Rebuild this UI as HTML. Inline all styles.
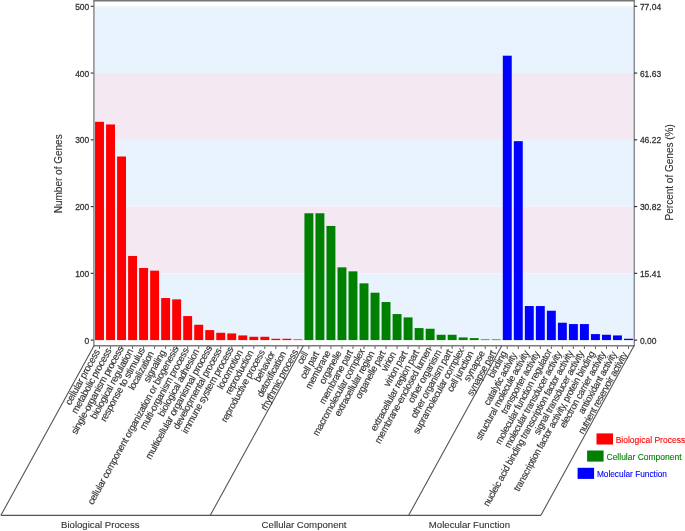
<!DOCTYPE html><html><head><meta charset="utf-8"><style>html,body{margin:0;padding:0;background:#fff;}svg{display:block;filter:blur(0.4px);}text{font-family:"Liberation Sans",sans-serif;}</style></head><body>
<svg width="685" height="531" viewBox="0 0 685 531">
<rect x="94.0" y="6.50" width="540.00" height="66.56" fill="#e9f3fd"/>
<rect x="94.0" y="73.06" width="540.00" height="66.76" fill="#f4e8f2"/>
<rect x="94.0" y="139.82" width="540.00" height="66.76" fill="#e9f3fd"/>
<rect x="94.0" y="206.58" width="540.00" height="66.76" fill="#f4e8f2"/>
<rect x="94.0" y="273.34" width="540.00" height="66.76" fill="#e9f3fd"/>
<rect x="95.05" y="121.79" width="8.92" height="218.31" fill="#ff0000"/>
<rect x="106.07" y="124.47" width="8.92" height="215.63" fill="#ff0000"/>
<rect x="117.09" y="156.51" width="8.92" height="183.59" fill="#ff0000"/>
<rect x="128.11" y="255.98" width="8.92" height="84.12" fill="#ff0000"/>
<rect x="139.13" y="268.00" width="8.92" height="72.10" fill="#ff0000"/>
<rect x="150.15" y="270.67" width="8.92" height="69.43" fill="#ff0000"/>
<rect x="161.17" y="298.04" width="8.92" height="42.06" fill="#ff0000"/>
<rect x="172.19" y="299.38" width="8.92" height="40.72" fill="#ff0000"/>
<rect x="183.21" y="316.07" width="8.92" height="24.03" fill="#ff0000"/>
<rect x="194.23" y="324.75" width="8.92" height="15.35" fill="#ff0000"/>
<rect x="205.25" y="330.09" width="8.92" height="10.01" fill="#ff0000"/>
<rect x="216.27" y="332.76" width="8.92" height="7.34" fill="#ff0000"/>
<rect x="227.29" y="333.42" width="8.92" height="6.68" fill="#ff0000"/>
<rect x="238.32" y="335.43" width="8.92" height="4.67" fill="#ff0000"/>
<rect x="249.34" y="336.76" width="8.92" height="3.34" fill="#ff0000"/>
<rect x="260.36" y="336.76" width="8.92" height="3.34" fill="#ff0000"/>
<rect x="271.38" y="338.76" width="8.92" height="1.34" fill="#ff0000"/>
<rect x="282.40" y="338.76" width="8.92" height="1.34" fill="#ff0000"/>
<rect x="293.42" y="339.43" width="8.92" height="0.67" fill="#ff0000"/>
<rect x="304.44" y="213.26" width="8.92" height="126.84" fill="#008000"/>
<rect x="315.46" y="213.26" width="8.92" height="126.84" fill="#008000"/>
<rect x="326.48" y="225.94" width="8.92" height="114.16" fill="#008000"/>
<rect x="337.50" y="267.33" width="8.92" height="72.77" fill="#008000"/>
<rect x="348.52" y="271.34" width="8.92" height="68.76" fill="#008000"/>
<rect x="359.54" y="283.35" width="8.92" height="56.75" fill="#008000"/>
<rect x="370.56" y="292.70" width="8.92" height="47.40" fill="#008000"/>
<rect x="381.58" y="302.05" width="8.92" height="38.05" fill="#008000"/>
<rect x="392.60" y="314.06" width="8.92" height="26.04" fill="#008000"/>
<rect x="403.62" y="317.40" width="8.92" height="22.70" fill="#008000"/>
<rect x="414.64" y="328.08" width="8.92" height="12.02" fill="#008000"/>
<rect x="425.66" y="328.75" width="8.92" height="11.35" fill="#008000"/>
<rect x="436.68" y="334.76" width="8.92" height="5.34" fill="#008000"/>
<rect x="447.70" y="334.76" width="8.92" height="5.34" fill="#008000"/>
<rect x="458.72" y="337.43" width="8.92" height="2.67" fill="#008000"/>
<rect x="469.74" y="338.10" width="8.92" height="2.00" fill="#008000"/>
<rect x="480.76" y="339.43" width="8.92" height="0.67" fill="#008000"/>
<rect x="491.78" y="339.43" width="8.92" height="0.67" fill="#008000"/>
<rect x="502.81" y="55.70" width="8.92" height="284.40" fill="#0000ff"/>
<rect x="513.83" y="141.16" width="8.92" height="198.94" fill="#0000ff"/>
<rect x="524.85" y="306.05" width="8.92" height="34.05" fill="#0000ff"/>
<rect x="535.87" y="306.05" width="8.92" height="34.05" fill="#0000ff"/>
<rect x="546.89" y="310.73" width="8.92" height="29.37" fill="#0000ff"/>
<rect x="557.91" y="322.74" width="8.92" height="17.36" fill="#0000ff"/>
<rect x="568.93" y="324.08" width="8.92" height="16.02" fill="#0000ff"/>
<rect x="579.95" y="324.08" width="8.92" height="16.02" fill="#0000ff"/>
<rect x="590.97" y="334.09" width="8.92" height="6.01" fill="#0000ff"/>
<rect x="601.99" y="334.76" width="8.92" height="5.34" fill="#0000ff"/>
<rect x="613.01" y="335.43" width="8.92" height="4.67" fill="#0000ff"/>
<rect x="624.03" y="338.76" width="8.92" height="1.34" fill="#0000ff"/>
<path d="M93.9,345.8 V0.75 M634.3,0.75 V345.8" fill="none" stroke="#8a8d92" stroke-width="1.5"/>
<path d="M93.2,0.7 H635" fill="none" stroke="#777" stroke-width="1.4"/>
<path d="M93.2,345.8 H635" fill="none" stroke="#7c7c7c" stroke-width="1.5"/>
<line x1="90.8" y1="340.10" x2="93.5" y2="340.10" stroke="#333" stroke-width="1.15"/>
<text transform="translate(89.3,343.60) scale(0.87,1)" font-size="9.75" fill="#333" stroke="#333" stroke-width="0.3" text-anchor="end">0</text>
<line x1="634.0" y1="340.10" x2="637.2" y2="340.10" stroke="#333" stroke-width="1.15"/>
<text transform="translate(639.9,343.70) scale(0.87,1)" font-size="9.75" fill="#333" stroke="#333" stroke-width="0.3">0.00</text>
<line x1="90.8" y1="273.34" x2="93.5" y2="273.34" stroke="#333" stroke-width="1.15"/>
<text transform="translate(89.3,276.84) scale(0.87,1)" font-size="9.75" fill="#333" stroke="#333" stroke-width="0.3" text-anchor="end">100</text>
<line x1="634.0" y1="273.34" x2="637.2" y2="273.34" stroke="#333" stroke-width="1.15"/>
<text transform="translate(639.9,276.94) scale(0.87,1)" font-size="9.75" fill="#333" stroke="#333" stroke-width="0.3">15.41</text>
<line x1="90.8" y1="206.58" x2="93.5" y2="206.58" stroke="#333" stroke-width="1.15"/>
<text transform="translate(89.3,210.08) scale(0.87,1)" font-size="9.75" fill="#333" stroke="#333" stroke-width="0.3" text-anchor="end">200</text>
<line x1="634.0" y1="206.58" x2="637.2" y2="206.58" stroke="#333" stroke-width="1.15"/>
<text transform="translate(639.9,210.18) scale(0.87,1)" font-size="9.75" fill="#333" stroke="#333" stroke-width="0.3">30.82</text>
<line x1="90.8" y1="139.82" x2="93.5" y2="139.82" stroke="#333" stroke-width="1.15"/>
<text transform="translate(89.3,143.32) scale(0.87,1)" font-size="9.75" fill="#333" stroke="#333" stroke-width="0.3" text-anchor="end">300</text>
<line x1="634.0" y1="139.82" x2="637.2" y2="139.82" stroke="#333" stroke-width="1.15"/>
<text transform="translate(639.9,143.42) scale(0.87,1)" font-size="9.75" fill="#333" stroke="#333" stroke-width="0.3">46.22</text>
<line x1="90.8" y1="73.06" x2="93.5" y2="73.06" stroke="#333" stroke-width="1.15"/>
<text transform="translate(89.3,76.56) scale(0.87,1)" font-size="9.75" fill="#333" stroke="#333" stroke-width="0.3" text-anchor="end">400</text>
<line x1="634.0" y1="73.06" x2="637.2" y2="73.06" stroke="#333" stroke-width="1.15"/>
<text transform="translate(639.9,76.66) scale(0.87,1)" font-size="9.75" fill="#333" stroke="#333" stroke-width="0.3">61.63</text>
<line x1="90.8" y1="6.30" x2="93.5" y2="6.30" stroke="#333" stroke-width="1.15"/>
<text transform="translate(89.3,9.80) scale(0.87,1)" font-size="9.75" fill="#333" stroke="#333" stroke-width="0.3" text-anchor="end">500</text>
<line x1="634.0" y1="6.30" x2="637.2" y2="6.30" stroke="#333" stroke-width="1.15"/>
<text transform="translate(639.9,9.90) scale(0.87,1)" font-size="9.75" fill="#333" stroke="#333" stroke-width="0.3">77.04</text>
<text transform="translate(62.0,173.8) rotate(-90)" font-size="10" fill="#333" stroke="#333" stroke-width="0.12" text-anchor="middle">Number of Genes</text>
<text transform="translate(672.6,172.3) rotate(-90)" font-size="10" fill="#333" stroke="#333" stroke-width="0.12" text-anchor="middle">Percent of Genes (%)</text>
<line x1="99.51" y1="346.3" x2="99.51" y2="348.9" stroke="#555" stroke-width="1"/>
<line x1="110.53" y1="346.3" x2="110.53" y2="348.9" stroke="#555" stroke-width="1"/>
<line x1="121.55" y1="346.3" x2="121.55" y2="348.9" stroke="#555" stroke-width="1"/>
<line x1="132.57" y1="346.3" x2="132.57" y2="348.9" stroke="#555" stroke-width="1"/>
<line x1="143.59" y1="346.3" x2="143.59" y2="348.9" stroke="#555" stroke-width="1"/>
<line x1="154.61" y1="346.3" x2="154.61" y2="348.9" stroke="#555" stroke-width="1"/>
<line x1="165.63" y1="346.3" x2="165.63" y2="348.9" stroke="#555" stroke-width="1"/>
<line x1="176.65" y1="346.3" x2="176.65" y2="348.9" stroke="#555" stroke-width="1"/>
<line x1="187.67" y1="346.3" x2="187.67" y2="348.9" stroke="#555" stroke-width="1"/>
<line x1="198.69" y1="346.3" x2="198.69" y2="348.9" stroke="#555" stroke-width="1"/>
<line x1="209.71" y1="346.3" x2="209.71" y2="348.9" stroke="#555" stroke-width="1"/>
<line x1="220.73" y1="346.3" x2="220.73" y2="348.9" stroke="#555" stroke-width="1"/>
<line x1="231.76" y1="346.3" x2="231.76" y2="348.9" stroke="#555" stroke-width="1"/>
<line x1="242.78" y1="346.3" x2="242.78" y2="348.9" stroke="#555" stroke-width="1"/>
<line x1="253.80" y1="346.3" x2="253.80" y2="348.9" stroke="#555" stroke-width="1"/>
<line x1="264.82" y1="346.3" x2="264.82" y2="348.9" stroke="#555" stroke-width="1"/>
<line x1="275.84" y1="346.3" x2="275.84" y2="348.9" stroke="#555" stroke-width="1"/>
<line x1="286.86" y1="346.3" x2="286.86" y2="348.9" stroke="#555" stroke-width="1"/>
<line x1="297.88" y1="346.3" x2="297.88" y2="348.9" stroke="#555" stroke-width="1"/>
<line x1="308.90" y1="346.3" x2="308.90" y2="348.9" stroke="#555" stroke-width="1"/>
<line x1="319.92" y1="346.3" x2="319.92" y2="348.9" stroke="#555" stroke-width="1"/>
<line x1="330.94" y1="346.3" x2="330.94" y2="348.9" stroke="#555" stroke-width="1"/>
<line x1="341.96" y1="346.3" x2="341.96" y2="348.9" stroke="#555" stroke-width="1"/>
<line x1="352.98" y1="346.3" x2="352.98" y2="348.9" stroke="#555" stroke-width="1"/>
<line x1="364.00" y1="346.3" x2="364.00" y2="348.9" stroke="#555" stroke-width="1"/>
<line x1="375.02" y1="346.3" x2="375.02" y2="348.9" stroke="#555" stroke-width="1"/>
<line x1="386.04" y1="346.3" x2="386.04" y2="348.9" stroke="#555" stroke-width="1"/>
<line x1="397.06" y1="346.3" x2="397.06" y2="348.9" stroke="#555" stroke-width="1"/>
<line x1="408.08" y1="346.3" x2="408.08" y2="348.9" stroke="#555" stroke-width="1"/>
<line x1="419.10" y1="346.3" x2="419.10" y2="348.9" stroke="#555" stroke-width="1"/>
<line x1="430.12" y1="346.3" x2="430.12" y2="348.9" stroke="#555" stroke-width="1"/>
<line x1="441.14" y1="346.3" x2="441.14" y2="348.9" stroke="#555" stroke-width="1"/>
<line x1="452.16" y1="346.3" x2="452.16" y2="348.9" stroke="#555" stroke-width="1"/>
<line x1="463.18" y1="346.3" x2="463.18" y2="348.9" stroke="#555" stroke-width="1"/>
<line x1="474.20" y1="346.3" x2="474.20" y2="348.9" stroke="#555" stroke-width="1"/>
<line x1="485.22" y1="346.3" x2="485.22" y2="348.9" stroke="#555" stroke-width="1"/>
<line x1="496.24" y1="346.3" x2="496.24" y2="348.9" stroke="#555" stroke-width="1"/>
<line x1="507.27" y1="346.3" x2="507.27" y2="348.9" stroke="#555" stroke-width="1"/>
<line x1="518.29" y1="346.3" x2="518.29" y2="348.9" stroke="#555" stroke-width="1"/>
<line x1="529.31" y1="346.3" x2="529.31" y2="348.9" stroke="#555" stroke-width="1"/>
<line x1="540.33" y1="346.3" x2="540.33" y2="348.9" stroke="#555" stroke-width="1"/>
<line x1="551.35" y1="346.3" x2="551.35" y2="348.9" stroke="#555" stroke-width="1"/>
<line x1="562.37" y1="346.3" x2="562.37" y2="348.9" stroke="#555" stroke-width="1"/>
<line x1="573.39" y1="346.3" x2="573.39" y2="348.9" stroke="#555" stroke-width="1"/>
<line x1="584.41" y1="346.3" x2="584.41" y2="348.9" stroke="#555" stroke-width="1"/>
<line x1="595.43" y1="346.3" x2="595.43" y2="348.9" stroke="#555" stroke-width="1"/>
<line x1="606.45" y1="346.3" x2="606.45" y2="348.9" stroke="#555" stroke-width="1"/>
<line x1="617.47" y1="346.3" x2="617.47" y2="348.9" stroke="#555" stroke-width="1"/>
<line x1="628.49" y1="346.3" x2="628.49" y2="348.9" stroke="#555" stroke-width="1"/>
<path d="M94.00,345.8 L0.90,515.3 M303.39,345.8 L210.29,515.3 M501.76,345.8 L408.66,515.3 M634.00,345.8 L540.90,515.3 " fill="none" stroke="#555" stroke-width="1.1"/>
<path d="M0.90,515.3 H540.90" fill="none" stroke="#555" stroke-width="1.25"/>
<text transform="translate(100.14,351.71) rotate(-61.2) scale(0.9761,1)" font-size="9.8" letter-spacing="-0.3" fill="#333" stroke="#333" stroke-width="0.15" text-anchor="end">cellular process</text>
<text transform="translate(111.77,350.60) rotate(-61.2) scale(0.9858,1)" font-size="9.8" letter-spacing="-0.3" fill="#333" stroke="#333" stroke-width="0.15" text-anchor="end">metabolic process</text>
<text transform="translate(123.92,348.56) rotate(-61.2) scale(0.9942,1)" font-size="9.8" letter-spacing="-0.3" fill="#333" stroke="#333" stroke-width="0.15" text-anchor="end">single-organism process</text>
<text transform="translate(133.49,351.19) rotate(-61.2) scale(0.9750,1)" font-size="9.8" letter-spacing="-0.3" fill="#333" stroke="#333" stroke-width="0.15" text-anchor="end">biological regulation</text>
<text transform="translate(145.14,350.05) rotate(-61.2) scale(0.9844,1)" font-size="9.8" letter-spacing="-0.3" fill="#333" stroke="#333" stroke-width="0.15" text-anchor="end">response to stimulus</text>
<text transform="translate(154.13,353.73) rotate(-61.2) scale(0.9461,1)" font-size="9.8" letter-spacing="-0.3" fill="#333" stroke="#333" stroke-width="0.15" text-anchor="end">localization</text>
<text transform="translate(165.85,352.46) rotate(-61.2) scale(0.9753,1)" font-size="9.8" letter-spacing="-0.3" fill="#333" stroke="#333" stroke-width="0.15" text-anchor="end">signaling</text>
<text transform="translate(179.00,348.59) rotate(-61.2) scale(0.9617,1)" font-size="9.8" letter-spacing="-0.3" fill="#333" stroke="#333" stroke-width="0.15" text-anchor="end">cellular component organization or biogenesis</text>
<text transform="translate(189.12,350.22) rotate(-61.2) scale(0.9690,1)" font-size="9.8" letter-spacing="-0.3" fill="#333" stroke="#333" stroke-width="0.15" text-anchor="end">multi-organism process</text>
<text transform="translate(199.48,351.42) rotate(-61.2) scale(0.9712,1)" font-size="9.8" letter-spacing="-0.3" fill="#333" stroke="#333" stroke-width="0.15" text-anchor="end">biological adhesion</text>
<text transform="translate(212.39,347.99) rotate(-61.2) scale(0.9840,1)" font-size="9.8" letter-spacing="-0.3" fill="#333" stroke="#333" stroke-width="0.15" text-anchor="end">multicellular organismal process</text>
<text transform="translate(221.97,350.62) rotate(-61.2) scale(0.9589,1)" font-size="9.8" letter-spacing="-0.3" fill="#333" stroke="#333" stroke-width="0.15" text-anchor="end">developmental process</text>
<text transform="translate(233.71,349.30) rotate(-61.2) scale(0.9769,1)" font-size="9.8" letter-spacing="-0.3" fill="#333" stroke="#333" stroke-width="0.15" text-anchor="end">immune system process</text>
<text transform="translate(243.08,352.30) rotate(-61.2) scale(0.9709,1)" font-size="9.8" letter-spacing="-0.3" fill="#333" stroke="#333" stroke-width="0.15" text-anchor="end">locomotion</text>
<text transform="translate(253.86,352.74) rotate(-61.2) scale(0.9551,1)" font-size="9.8" letter-spacing="-0.3" fill="#333" stroke="#333" stroke-width="0.15" text-anchor="end">reproduction</text>
<text transform="translate(265.16,352.24) rotate(-61.2) scale(0.9521,1)" font-size="9.8" letter-spacing="-0.3" fill="#333" stroke="#333" stroke-width="0.15" text-anchor="end">reproductive process</text>
<text transform="translate(275.39,353.68) rotate(-61.2) scale(0.9398,1)" font-size="9.8" letter-spacing="-0.3" fill="#333" stroke="#333" stroke-width="0.15" text-anchor="end">behavior</text>
<text transform="translate(286.38,353.73) rotate(-61.2) scale(0.9505,1)" font-size="9.8" letter-spacing="-0.3" fill="#333" stroke="#333" stroke-width="0.15" text-anchor="end">detoxification</text>
<text transform="translate(298.41,351.90) rotate(-61.2) scale(0.9744,1)" font-size="9.8" letter-spacing="-0.3" fill="#333" stroke="#333" stroke-width="0.15" text-anchor="end">rhythmic process</text>
<text transform="translate(308.23,354.08) rotate(-61.2) scale(0.9072,1)" font-size="9.8" letter-spacing="-0.3" fill="#333" stroke="#333" stroke-width="0.15" text-anchor="end">cell</text>
<text transform="translate(319.32,353.95) rotate(-61.2) scale(0.9261,1)" font-size="9.8" letter-spacing="-0.3" fill="#333" stroke="#333" stroke-width="0.15" text-anchor="end">cell part</text>
<text transform="translate(330.85,353.03) rotate(-61.2) scale(0.9435,1)" font-size="9.8" letter-spacing="-0.3" fill="#333" stroke="#333" stroke-width="0.15" text-anchor="end">membrane</text>
<text transform="translate(341.82,353.12) rotate(-61.2) scale(0.9572,1)" font-size="9.8" letter-spacing="-0.3" fill="#333" stroke="#333" stroke-width="0.15" text-anchor="end">organelle</text>
<text transform="translate(353.13,352.59) rotate(-61.2) scale(0.9534,1)" font-size="9.8" letter-spacing="-0.3" fill="#333" stroke="#333" stroke-width="0.15" text-anchor="end">membrane part</text>
<text transform="translate(364.87,351.28) rotate(-61.2) scale(0.9517,1)" font-size="9.8" letter-spacing="-0.3" fill="#333" stroke="#333" stroke-width="0.15" text-anchor="end">macromolecular complex</text>
<text transform="translate(374.74,353.38) rotate(-61.2) scale(0.9476,1)" font-size="9.8" letter-spacing="-0.3" fill="#333" stroke="#333" stroke-width="0.15" text-anchor="end">extracellular region</text>
<text transform="translate(385.85,353.20) rotate(-61.2) scale(0.9497,1)" font-size="9.8" letter-spacing="-0.3" fill="#333" stroke="#333" stroke-width="0.15" text-anchor="end">organelle part</text>
<text transform="translate(396.39,354.08) rotate(-61.2) scale(0.9605,1)" font-size="9.8" letter-spacing="-0.3" fill="#333" stroke="#333" stroke-width="0.15" text-anchor="end">virion</text>
<text transform="translate(407.70,353.55) rotate(-61.2) scale(0.9734,1)" font-size="9.8" letter-spacing="-0.3" fill="#333" stroke="#333" stroke-width="0.15" text-anchor="end">virion part</text>
<text transform="translate(419.38,352.36) rotate(-61.2) scale(0.9558,1)" font-size="9.8" letter-spacing="-0.3" fill="#333" stroke="#333" stroke-width="0.15" text-anchor="end">extracellular region part</text>
<text transform="translate(431.96,349.52) rotate(-61.2) scale(0.9667,1)" font-size="9.8" letter-spacing="-0.3" fill="#333" stroke="#333" stroke-width="0.15" text-anchor="end">membrane-enclosed lumen</text>
<text transform="translate(441.51,352.20) rotate(-61.2) scale(0.9565,1)" font-size="9.8" letter-spacing="-0.3" fill="#333" stroke="#333" stroke-width="0.15" text-anchor="end">other organism</text>
<text transform="translate(452.60,352.06) rotate(-61.2) scale(0.9589,1)" font-size="9.8" letter-spacing="-0.3" fill="#333" stroke="#333" stroke-width="0.15" text-anchor="end">other organism part</text>
<text transform="translate(464.47,350.52) rotate(-61.2) scale(0.9665,1)" font-size="9.8" letter-spacing="-0.3" fill="#333" stroke="#333" stroke-width="0.15" text-anchor="end">supramolecular complex</text>
<text transform="translate(473.92,353.38) rotate(-61.2) scale(0.9471,1)" font-size="9.8" letter-spacing="-0.3" fill="#333" stroke="#333" stroke-width="0.15" text-anchor="end">cell junction</text>
<text transform="translate(485.04,353.20) rotate(-61.2) scale(0.9634,1)" font-size="9.8" letter-spacing="-0.3" fill="#333" stroke="#333" stroke-width="0.15" text-anchor="end">synapse</text>
<text transform="translate(496.20,352.94) rotate(-61.2) scale(0.9476,1)" font-size="9.8" letter-spacing="-0.3" fill="#333" stroke="#333" stroke-width="0.15" text-anchor="end">synapse part</text>
<text transform="translate(506.98,353.38) rotate(-61.2) scale(0.9713,1)" font-size="9.8" letter-spacing="-0.3" fill="#333" stroke="#333" stroke-width="0.15" text-anchor="end">binding</text>
<text transform="translate(517.04,355.13) rotate(-61.2) scale(0.9250,1)" font-size="9.8" letter-spacing="-0.3" fill="#333" stroke="#333" stroke-width="0.15" text-anchor="end">catalytic activity</text>
<text transform="translate(529.26,352.94) rotate(-61.2) scale(0.9434,1)" font-size="9.8" letter-spacing="-0.3" fill="#333" stroke="#333" stroke-width="0.15" text-anchor="end">structural molecule activity</text>
<text transform="translate(539.85,353.73) rotate(-61.2) scale(0.9416,1)" font-size="9.8" letter-spacing="-0.3" fill="#333" stroke="#333" stroke-width="0.15" text-anchor="end">transporter activity</text>
<text transform="translate(552.03,351.63) rotate(-61.2) scale(0.9515,1)" font-size="9.8" letter-spacing="-0.3" fill="#333" stroke="#333" stroke-width="0.15" text-anchor="end">molecular function regulator</text>
<text transform="translate(561.94,353.64) rotate(-61.2) scale(0.9399,1)" font-size="9.8" letter-spacing="-0.3" fill="#333" stroke="#333" stroke-width="0.15" text-anchor="end">molecular transducer activity</text>
<text transform="translate(573.34,352.94) rotate(-61.2) scale(0.9451,1)" font-size="9.8" letter-spacing="-0.3" fill="#333" stroke="#333" stroke-width="0.15" text-anchor="end">nucleic acid binding transcription factor activity</text>
<text transform="translate(584.17,353.29) rotate(-61.2) scale(0.9432,1)" font-size="9.8" letter-spacing="-0.3" fill="#333" stroke="#333" stroke-width="0.15" text-anchor="end">signal transducer activity</text>
<text transform="translate(595.10,353.47) rotate(-61.2) scale(0.9396,1)" font-size="9.8" letter-spacing="-0.3" fill="#333" stroke="#333" stroke-width="0.15" text-anchor="end">transcription factor activity, protein binding</text>
<text transform="translate(605.87,353.90) rotate(-61.2) scale(0.9419,1)" font-size="9.8" letter-spacing="-0.3" fill="#333" stroke="#333" stroke-width="0.15" text-anchor="end">electron carrier activity</text>
<text transform="translate(616.90,353.90) rotate(-61.2) scale(0.9359,1)" font-size="9.8" letter-spacing="-0.3" fill="#333" stroke="#333" stroke-width="0.15" text-anchor="end">antioxidant activity</text>
<text transform="translate(627.63,354.43) rotate(-61.2) scale(0.9362,1)" font-size="9.8" letter-spacing="-0.3" fill="#333" stroke="#333" stroke-width="0.15" text-anchor="end">nutrient reservoir activity</text>
<text x="61" y="528.2" font-size="9.6" fill="#333" stroke="#333" stroke-width="0.12">Biological Process</text>
<text x="261.6" y="528.2" font-size="9.6" fill="#333" stroke="#333" stroke-width="0.12">Cellular Component</text>
<text x="428.8" y="528.2" font-size="9.6" fill="#333" stroke="#333" stroke-width="0.12">Molecular Function</text>
<rect x="596.5" y="433.4" width="16.5" height="11.1" fill="#ff0000"/>
<text x="615.7" y="442.6" font-size="8.5" fill="#ff0000" stroke="#ff0000" stroke-width="0.12">Biological Process</text>
<rect x="587.1" y="450.5" width="16.5" height="11.1" fill="#008000"/>
<text x="606.5" y="459.6" font-size="8.5" fill="#008000" stroke="#008000" stroke-width="0.12">Cellular Component</text>
<rect x="577.6" y="467.8" width="16.5" height="11.1" fill="#0000ff"/>
<text x="596.9" y="476.6" font-size="8.3" fill="#0000ff" stroke="#0000ff" stroke-width="0.12">Molecular Function</text>
</svg></body></html>
